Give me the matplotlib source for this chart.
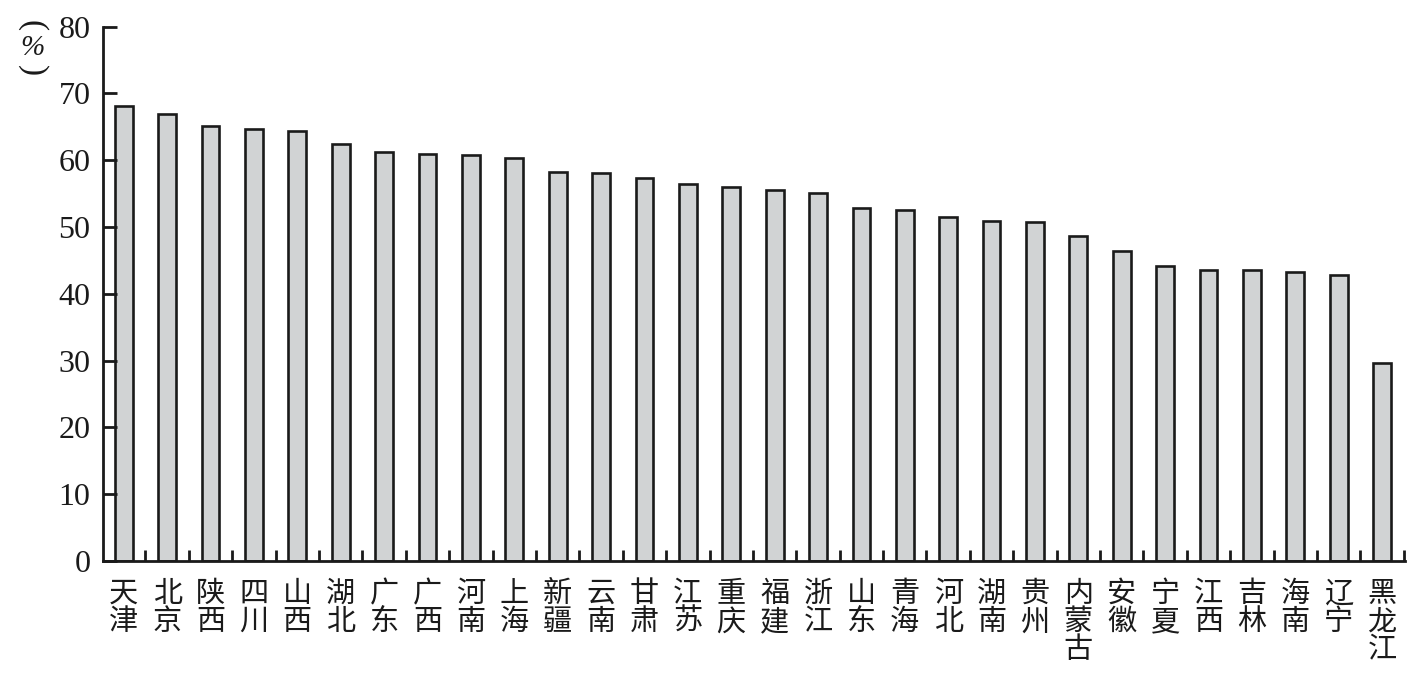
import matplotlib
matplotlib.use("Agg")
import matplotlib.pyplot as plt
import numpy as np

provinces = ["天津", "北京", "陕西", "四川", "山西", "湖北", "广东", "广西", "河南", "上海",
             "新疆", "云南", "甘肃", "江苏", "重庆", "福建", "浙江", "山东", "青海", "河北",
             "湖南", "贵州", "内蒙古", "安徽", "宁夏", "江西", "吉林", "海南", "辽宁", "黑龙江"]
values = [68.1, 67.0, 65.1, 64.7, 64.4, 62.4, 61.3, 61.0, 60.8, 60.4,
          58.3, 58.1, 57.3, 56.4, 56.0, 55.5, 55.1, 52.8, 52.6, 51.5,
          50.9, 50.8, 48.7, 46.4, 44.2, 43.6, 43.6, 43.3, 42.8, 29.6]
y_ticks = [0, 10, 20, 30, 40, 50, 60, 70, 80]

fig = plt.figure(figsize=(14.24, 6.79), dpi=100)
ax = fig.add_axes([0.0723, 0.1738, 0.9144, 0.7869])

x = np.arange(len(provinces))
ax.bar(x, values, width=0.41, color="#d1d3d4", edgecolor="#1a1a1a", linewidth=1.9)

ax.set_xlim(-0.48, len(provinces) - 0.47)
ax.set_ylim(0, 80)

for s in ["top", "right"]:
    ax.spines[s].set_visible(False)
for s in ["left", "bottom"]:
    ax.spines[s].set_linewidth(2.0)
    ax.spines[s].set_color("#1a1a1a")

ax.set_yticks(y_ticks)
ax.set_yticklabels([str(v) for v in y_ticks], fontfamily="Liberation Serif", fontsize=23)
ax.tick_params(axis="y", direction="in", length=10, width=2.0, pad=9, colors="#1a1a1a")

ax.set_xticks(x)
ax.set_xticklabels(["\n".join(p) for p in provinces],
                   fontfamily=["Noto Sans CJK SC", "DejaVu Sans"], fontsize=21,
                   linespacing=0.92, va="top")
ax.tick_params(axis="x", which="major", length=0, pad=13, colors="#1a1a1a")
ax.set_xticks(np.arange(len(provinces)) + 0.5, minor=True)
ax.tick_params(axis="x", which="minor", direction="in", length=8, width=2.0, colors="#1a1a1a")

# vertical unit label "(%)"
fig.text(0.0225, 0.963, "(", ha="center", va="center", rotation=-90, fontsize=24,
         fontfamily="Liberation Serif", color="#1a1a1a")
fig.text(0.0225, 0.930, "%", ha="center", va="center", fontsize=21, style="italic",
         fontfamily="Liberation Serif", color="#1a1a1a")
fig.text(0.0225, 0.896, ")", ha="center", va="center", rotation=-90, fontsize=24,
         fontfamily="Liberation Serif", color="#1a1a1a")

fig.savefig("out.png", dpi=100)
